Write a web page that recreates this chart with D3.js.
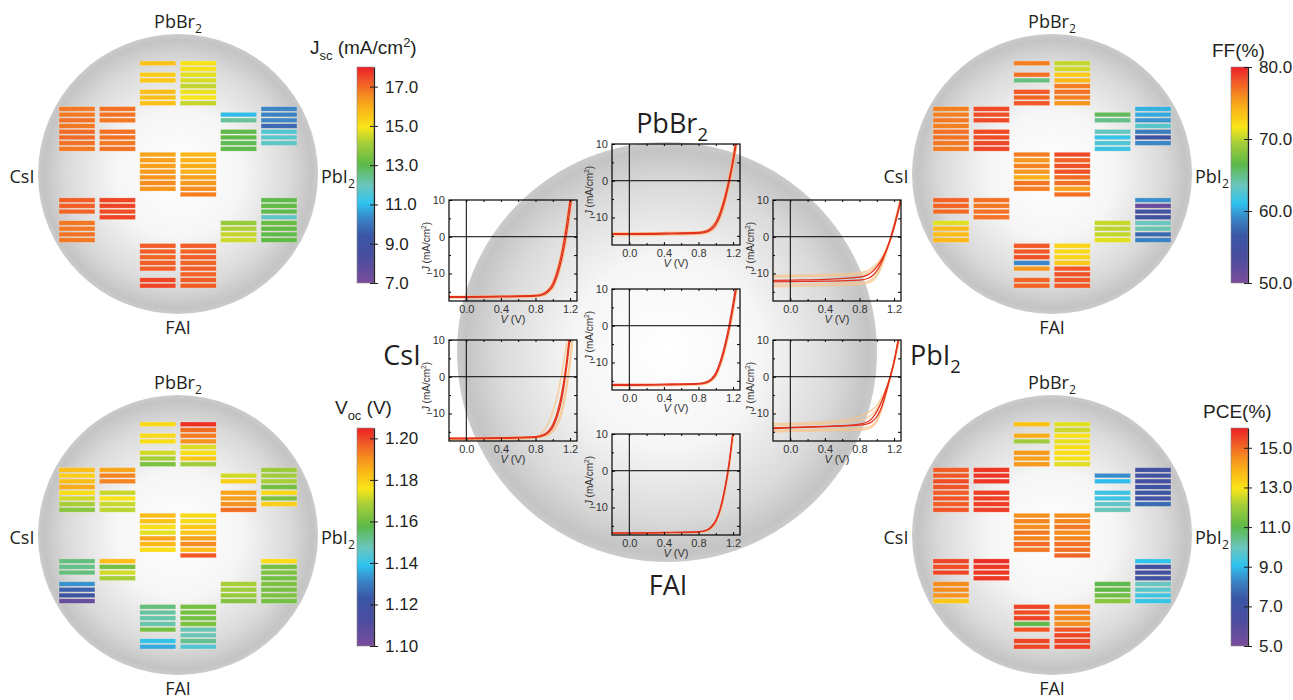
<!DOCTYPE html>
<html lang="en">
<head>
<meta charset="UTF-8">
<title>Composition maps</title>
<script src="https://d3js.org/d3.v7.min.js"></script>
<style>
  body { margin: 0; background: #fff; }
  svg { display: block; }
  .lab { font-family: "Open Sans", sans-serif; fill: #231f20; }
  .cb text { font-family: "Liberation Sans", Arial, sans-serif; font-size: 17px; fill: #231f20; }
  .jv text { font-family: "Liberation Sans", Arial, sans-serif; font-size: 11px; fill: #333; }
</style>
</head>
<body>
<svg id="chart" width="1293" height="700"></svg>
<script>
// block order inside every composition map
const blockNames = ["top", "upperLeft", "upperRight", "center", "lowerLeft", "lowerRight", "bottom"];
// each block: [left column, right column], 8 slots each, null = missing cell
const jscValues = [
  [[15.6, null, 15.4, 15.5, null, 15.7, 15.6, 15.6], [15.0, 15.0, 14.7, 14.6, 14.4, 14.8, 14.9, 14.4]],
  [[16.8, 16.8, 16.9, 16.8, 17.0, 17.0, 16.9, 16.8], [16.9, 16.9, 16.8, null, 16.9, 16.9, 16.8, 16.9]],
  [[null, 11.0, 12.3, null, 13.0, 13.1, 12.9, 13.0], [10.3, 10.2, 10.3, 9.8, 11.6, 11.7, 11.8, null]],
  [[16.1, 16.2, 16.2, 16.3, 16.4, 16.5, 16.4, null], [15.8, 15.9, 16.0, 15.9, 16.2, 16.3, 16.5, 16.7]],
  [[17.2, 17.2, 17.1, null, 16.8, 16.8, 16.9, 16.8], [17.5, 17.5, 17.4, 17.5, null, null, null, null]],
  [[null, null, null, null, 13.9, 14.2, 14.4, 14.5], [13.0, 13.1, 13.0, 11.8, 13.2, 13.1, 13.0, 13.1]],
  [[17.2, 17.2, 17.1, 17.2, 17.2, null, 17.5, 17.5], [17.2, 17.1, 17.2, 17.1, 17.2, 17.1, 17.2, 17.2]]
];
const vocValues = [
  [[1.178, null, 1.178, 1.177, null, 1.172, 1.168, 1.162], [1.203, 1.195, 1.193, 1.190, 1.173, 1.177, 1.181, 1.167]],
  [[1.183, 1.180, 1.183, 1.186, 1.177, 1.172, 1.168, 1.164], [1.187, 1.192, 1.192, null, 1.171, 1.176, 1.171, 1.170]],
  [[null, 1.172, 1.180, null, 1.187, 1.188, 1.190, 1.195], [1.166, 1.167, 1.168, 1.161, 1.178, 1.162, 1.180, null]],
  [[1.183, 1.182, 1.177, 1.174, 1.187, 1.184, 1.177, null], [1.178, 1.178, 1.181, 1.181, 1.187, 1.191, 1.183, 1.198]],
  [[1.153, 1.152, 1.153, null, 1.133, 1.125, 1.121, 1.105], [1.183, 1.161, 1.172, 1.168, null, null, null, null]],
  [[null, null, null, null, 1.168, 1.167, 1.166, 1.163], [1.177, 1.161, 1.162, 1.161, 1.162, 1.161, 1.162, 1.161]],
  [[1.153, 1.150, 1.149, 1.149, 1.161, null, 1.140, 1.136], [1.161, 1.161, 1.161, 1.162, 1.148, 1.148, 1.151, 1.144]]
];
const ffValues = [
  [[76.5, null, 77.0, 65.0, null, 78.0, 77.5, 78.0], [70.2, 70.5, 73.0, 74.0, 76.5, 77.0, 76.5, 75.5]],
  [[76.5, 76.5, 76.7, 76.4, 77.0, 77.0, 76.8, 76.6], [78.5, 78.3, 78.5, null, 78.5, 78.4, 78.5, 78.6]],
  [[null, 66.0, 64.8, null, 63.2, 61.5, 62.5, 61.7], [60.5, 60.2, 59.5, 62.8, 58.5, 56.0, 59.0, null]],
  [[76.5, 75.5, 76.3, 75.5, 74.5, 76.8, 76.5, null], [78.5, 77.5, 78.2, 78.3, 77.3, 77.0, 75.0, 77.0]],
  [[77.5, 77.5, 77.3, null, 71.0, 74.0, 73.8, 74.0], [77.0, 76.8, 77.0, 77.0, null, null, null, null]],
  [[null, null, null, null, 70.3, 70.0, 70.2, 71.0], [59.3, 51.5, 55.5, 55.0, 63.5, 63.8, 57.5, 58.8]],
  [[78.0, 78.0, 78.2, 59.0, 75.5, null, 77.5, 77.5], [72.5, 72.3, 72.5, 73.0, 78.0, 78.2, 78.0, 78.0]]
];
const pceValues = [
  [[13.6, null, 14.0, 12.0, null, 14.3, 14.2, 14.3], [12.7, 12.5, 13.0, 12.8, 13.1, 13.1, 13.0, 12.7]],
  [[15.2, 15.3, 15.4, 15.3, 15.2, 15.3, 15.2, 15.3], [15.7, 15.7, 15.7, null, 15.6, 15.6, 15.6, 15.6]],
  [[null, 8.4, 9.0, null, 9.3, 9.3, 9.8, 10.0], [6.8, 7.0, 6.8, 7.1, 7.3, 7.0, 7.8, null]],
  [[14.5, 14.6, 14.5, 14.8, 14.6, 15.0, 14.8, null], [14.5, 14.6, 14.8, 14.5, 14.6, 14.9, 14.9, 15.1]],
  [[15.5, 15.4, 15.5, null, 14.5, 14.5, 14.4, 13.5], [15.8, 15.7, 15.7, 15.7, null, null, null, null]],
  [[null, null, null, null, 11.0, 11.1, 11.3, 11.7], [9.1, 6.8, 6.9, 7.0, 9.9, 9.7, 9.3, 9.2]],
  [[15.5, 15.4, 15.5, 11.0, 15.3, null, 15.5, 15.5], [14.5, 14.7, 14.6, 14.5, 15.3, 15.5, 15.5, 15.6]]
];
const jscTicks = [7, 9, 11, 13, 15, 17];
const vocTicks = [1.10, 1.12, 1.14, 1.16, 1.18, 1.20];
const ffTicks = [50, 60, 70, 80];
const pceTicks = [5, 7, 9, 11, 13, 15];

// J-V curves, [V, J] points, panels in block order
const jvRed = [
  [[[-0.2,-16.5],[0,-16.5],[0.4,-16.4],[0.8,-16.2],[0.9,-15.7],[0.95,-14.9],[1.0,-13.5],[1.05,-10.7],[1.1,-6.4],[1.15,-0.4],[1.2,7.6],[1.23,13]],
   [[-0.2,-16.3],[0,-16.3],[0.4,-16.2],[0.8,-16.0],[0.9,-15.4],[0.95,-14.5],[1.0,-12.8],[1.05,-9.6],[1.1,-4.8],[1.15,1.8],[1.2,10],[1.22,13]]],
  [[[-0.2,-14.6],[0,-14.6],[0.4,-14.5],[0.8,-14.3],[0.9,-13.9],[0.95,-13.3],[1.0,-12],[1.05,-9.6],[1.1,-5.9],[1.15,-1.0],[1.2,4.9],[1.25,12]],
   [[-0.2,-14.4],[0,-14.4],[0.4,-14.3],[0.8,-14.1],[0.9,-13.6],[0.95,-12.8],[1.0,-11.3],[1.05,-8.7],[1.1,-4.9],[1.15,0],[1.2,6],[1.24,12]]],
  [[[-0.2,-11.9],[0,-11.8],[0.4,-11.6],[0.8,-11.0],[0.9,-10.3],[0.95,-9.5],[1.0,-8.2],[1.05,-6.5],[1.1,-4.2],[1.15,-1.3],[1.2,2.4],[1.25,7],[1.29,11]],
   [[-0.2,-12.3],[0,-12.2],[0.4,-12.1],[0.8,-11.8],[0.9,-11.3],[0.95,-10.6],[1.0,-9.3],[1.05,-7.2],[1.1,-4.4],[1.15,-1],[1.2,3],[1.25,7.5],[1.29,11.5]]],
  [[[-0.2,-16.2],[0,-16.2],[0.4,-16.1],[0.8,-15.9],[0.9,-15.5],[0.95,-14.8],[1.0,-13.4],[1.05,-10.6],[1.1,-6.6],[1.15,-1.5],[1.2,4.8],[1.25,12]],
   [[-0.2,-16.0],[0,-16.0],[0.4,-15.9],[0.8,-15.7],[0.9,-15.2],[0.95,-14.4],[1.0,-12.8],[1.05,-9.8],[1.1,-5.6],[1.15,-0.3],[1.2,6.2],[1.24,12]]],
  [[[-0.2,-16.9],[0,-16.9],[0.4,-16.8],[0.8,-16.5],[0.9,-16],[0.95,-15.2],[1.0,-13.8],[1.05,-11],[1.1,-6.5],[1.15,0.8],[1.2,10.5]],
   [[-0.2,-16.7],[0,-16.7],[0.4,-16.6],[0.8,-16.3],[0.9,-15.7],[0.95,-14.8],[1.0,-13.1],[1.05,-10],[1.1,-5.1],[1.15,2.4],[1.19,10.5]]],
  [[[-0.2,-14.1],[0,-13.9],[0.4,-13.6],[0.8,-12.9],[0.9,-12.2],[0.95,-11.2],[1.0,-9.5],[1.05,-7.1],[1.1,-3.9],[1.15,-0.4],[1.2,4],[1.25,10],[1.28,13]],
   [[-0.2,-13.9],[0,-13.8],[0.4,-13.5],[0.8,-13.2],[0.9,-12.8],[0.95,-12.1],[1.0,-10.9],[1.05,-8.6],[1.1,-4.9],[1.15,-0.6],[1.2,4.2],[1.25,10],[1.28,13]]],
  [[[-0.2,-17],[0,-17],[0.4,-16.9],[0.8,-16.7],[0.9,-16.2],[0.95,-15.4],[1.0,-13.8],[1.05,-10.8],[1.1,-5.8],[1.15,1],[1.2,10.5]],
   [[-0.2,-16.9],[0,-16.9],[0.4,-16.8],[0.8,-16.6],[0.9,-16.1],[0.95,-15.2],[1.0,-13.5],[1.05,-10.3],[1.1,-5.2],[1.15,1.6],[1.2,11]]]
];
const jvPale = [
  [[[-0.2,-16.7],[0,-16.7],[0.4,-16.6],[0.8,-16.4],[0.9,-16],[0.95,-15.3],[1.0,-14.1],[1.05,-11.6],[1.1,-7.6],[1.15,-1.8],[1.2,5.8],[1.24,13]],
   [[-0.2,-16.2],[0,-16.2],[0.4,-16.1],[0.8,-15.8],[0.9,-15.1],[0.95,-14.1],[1.0,-12.2],[1.05,-8.8],[1.1,-3.8],[1.15,3],[1.2,11.5]]],
  [[[-0.2,-14.9],[0,-14.9],[0.4,-14.8],[0.8,-14.6],[0.9,-14.3],[0.95,-13.8],[1.0,-12.7],[1.05,-10.5],[1.1,-7],[1.15,-2.3],[1.2,3.5],[1.26,12]],
   [[-0.2,-14.2],[0,-14.2],[0.4,-14.1],[0.8,-13.9],[0.9,-13.4],[0.95,-12.5],[1.0,-10.9],[1.05,-8],[1.1,-4],[1.15,1.2],[1.2,7.5],[1.23,12]]],
  [[[-0.2,-10.6],[0,-10.5],[0.4,-10.3],[0.8,-9.8],[0.9,-9.2],[1.0,-7.4],[1.05,-5.9],[1.1,-3.8],[1.15,-1],[1.2,2.8],[1.25,7.5],[1.29,11]],
   [[-0.2,-11],[0,-10.9],[0.4,-10.7],[0.8,-10.3],[0.9,-9.8],[1.0,-8],[1.05,-6.4],[1.1,-4.1],[1.15,-1.2],[1.2,2.6],[1.28,10]],
   [[-0.2,-13.1],[0,-13],[0.4,-12.8],[0.8,-12.5],[0.9,-12.1],[1.0,-10.2],[1.05,-8],[1.1,-5],[1.15,-1.3],[1.2,3],[1.28,11]],
   [[-0.2,-13.6],[0,-13.5],[0.4,-13.3],[0.8,-13],[0.9,-12.6],[1.0,-10.8],[1.05,-8.4],[1.1,-5.1],[1.15,-1.2],[1.2,3.3],[1.28,11]]],
  [[[-0.2,-16.4],[0,-16.4],[0.4,-16.3],[0.8,-16.1],[0.9,-15.7],[0.95,-15.1],[1.0,-13.9],[1.05,-11.3],[1.1,-7.5],[1.15,-2.6],[1.2,3.5],[1.26,12]]],
  [[[-0.2,-17.2],[0,-17.2],[0.4,-17.1],[0.7,-16.9],[0.8,-16.5],[0.85,-15.8],[0.9,-14.6],[0.95,-12.6],[1.0,-9.6],[1.05,-5.4],[1.1,0.3],[1.15,7.6],[1.18,12]],
   [[-0.2,-17],[0,-17],[0.4,-16.9],[0.8,-16.6],[0.9,-15.8],[0.95,-14.7],[1.0,-12.8],[1.05,-9.6],[1.1,-4.6],[1.15,2.6],[1.19,10]],
   [[-0.2,-16.8],[0,-16.8],[0.4,-16.7],[0.8,-16.6],[0.9,-16.3],[0.95,-15.8],[1.0,-14.8],[1.05,-12.8],[1.1,-9.3],[1.15,-3.5],[1.2,5],[1.23,12]],
   [[-0.2,-16.6],[0,-16.6],[0.4,-16.5],[0.8,-16.4],[0.9,-16.2],[0.95,-15.8],[1.0,-15],[1.05,-13.3],[1.1,-10.2],[1.15,-4.8],[1.2,3.5],[1.24,12]]],
  [[[-0.2,-12.8],[0,-12.7],[0.4,-12.3],[0.6,-11.8],[0.8,-10.8],[0.9,-9.8],[1.0,-7.8],[1.05,-6],[1.1,-3.7],[1.15,-0.7],[1.2,3.5],[1.27,11]],
   [[-0.2,-13.3],[0,-13.1],[0.4,-12.8],[0.6,-12.4],[0.8,-11.8],[0.9,-11],[1.0,-8.9],[1.05,-6.8],[1.1,-4],[1.15,-0.5],[1.2,4],[1.27,12]],
   [[-0.2,-14.6],[0,-14.5],[0.4,-14.3],[0.8,-14],[0.9,-13.7],[0.95,-13.2],[1.0,-11.9],[1.05,-9.2],[1.1,-5.2],[1.15,-0.6],[1.2,4.3],[1.26,12]],
   [[-0.2,-15],[0,-14.9],[0.4,-14.7],[0.8,-14.5],[0.9,-14.2],[0.95,-13.6],[1.0,-12.2],[1.05,-9.4],[1.1,-5.4],[1.15,-0.8],[1.2,4],[1.26,12]]],
  [[[-0.2,-17.1],[0,-17.1],[0.4,-17],[0.8,-16.8],[0.9,-16.4],[0.95,-15.7],[1.0,-14.3],[1.05,-11.5],[1.1,-6.8],[1.15,-0.2],[1.2,8.8],[1.22,12]]]
];
const jvXTicks = [0, 0.4, 0.8, 1.2];
const jvYTicks = [-10, 0, 10];

// rainbow colour scale shared by all bars (fraction of range -> colour)
const rainbowStops = [0, 0.12, 0.22, 0.30, 0.37, 0.45, 0.55, 0.65, 0.72, 0.80, 0.86, 0.93, 1];
const rainbowColors = ["#7a4d9c", "#4a4da0", "#3a56a6", "#3a86c6", "#2ec3ef", "#6ac6bf", "#5db947",
                       "#a8cf38", "#f7e619", "#fbb817", "#f5901f", "#f15a27", "#ec1f26"];
const rainbow = d3.scaleLinear().domain(rainbowStops).range(rainbowColors).clamp(true);

// layout of blocks on a 3 x 5 grid: [column, row]
const blockCells = [[1, 0], [0, 1], [2, 1], [1, 2], [0, 3], [2, 3], [1, 4]];

const svg = d3.select("#chart");
const defs = svg.append("defs");

const sphere = defs.append("radialGradient").attr("id", "sphere")
  .attr("cx", "50%").attr("cy", "50%").attr("r", "50%");
[[0, "#ffffff"], [0.45, "#f6f6f6"], [0.8, "#dadada"], [0.96, "#c4c4c4"], [1, "#cbcbcb"]]
  .forEach(([o, c]) => sphere.append("stop").attr("offset", o).attr("stop-color", c));

const barGrad = defs.append("linearGradient").attr("id", "rainbowBar")
  .attr("x1", 0).attr("y1", 1).attr("x2", 0).attr("y2", 0);
rainbowStops.forEach((o, i) => barGrad.append("stop").attr("offset", o).attr("stop-color", rainbowColors[i]));

// text with sub/superscripts: parts = [[text, "sub"|"sup"|undefined, italic]]
function richText(g, x, y, parts, size, anchor, cls) {
  const t = g.append("text").attr("class", cls || "lab").attr("x", x).attr("y", y)
    .attr("text-anchor", anchor || "middle").style("font-size", size + "px");
  let shift = 0;
  parts.forEach(([str, kind, italic]) => {
    const target = kind === "sub" ? size * 0.3 : kind === "sup" ? -size * 0.38 : 0;
    const ts = t.append("tspan").attr("dy", target - shift).text(str);
    if (kind) ts.style("font-size", (size * 0.68) + "px");
    if (italic) ts.style("font-style", "italic");
    shift = target;
  });
  return t;
}

const metrics = [
  { values: jscValues, min: 7, max: 18, ticks: jscTicks, fmt: ".1f", cx: 178, cy: 174, barX: 357, barY: 67, barH: 216,
    title: [["J"], ["sc", "sub"], [" (mA/cm"], ["2", "sup"], [")"]], titleX: 310, titleY: 54 },
  { values: vocValues, min: 1.10, max: 1.205, ticks: vocTicks, fmt: ".2f", cx: 178, cy: 535, barX: 357, barY: 428, barH: 218,
    title: [["V"], ["oc", "sub"], [" (V)"]], titleX: 335, titleY: 414 },
  { values: ffValues, min: 50, max: 80, ticks: ffTicks, fmt: ".1f", cx: 1052, cy: 174, barX: 1231, barY: 67, barH: 216,
    title: [["FF(%)"]], titleX: 1212, titleY: 57 },
  { values: pceValues, min: 5, max: 16, ticks: pceTicks, fmt: ".1f", cx: 1052, cy: 535, barX: 1231, barY: 428, barH: 218,
    title: [["PCE(%)"]], titleX: 1203, titleY: 418 }
];

const colX = d3.scaleBand().domain(d3.range(6)).range([-119, 119]).paddingInner(0.11);
const slotY = d3.scaleBand().domain(d3.range(40)).range([-113, 114]).paddingInner(0.2);

metrics.forEach(m => {
  const g = svg.append("g").attr("transform", `translate(${m.cx},${m.cy})`);
  g.append("circle").attr("r", 140).attr("fill", "url(#sphere)");

  const cells = [];
  m.values.forEach((block, b) => block.forEach((col, c) => col.forEach((v, s) => {
    if (v !== null) cells.push({ sub: blockCells[b][0] * 2 + c, slot: blockCells[b][1] * 8 + s, v });
  })));
  const color = v => rainbow((v - m.min) / (m.max - m.min));
  g.append("g").selectAll("rect").data(cells).join("rect")
    .attr("x", d => colX(d.sub)).attr("y", d => slotY(d.slot))
    .attr("width", colX.bandwidth()).attr("height", slotY.bandwidth())
    .attr("fill", d => color(d.v))
    .attr("stroke", "rgba(255,240,220,0.55)").attr("stroke-width", 0.5);

  richText(g, 0, -146, [["PbBr"], ["2", "sub"]], 18, "middle");
  richText(g, -156, 9, [["CsI"]], 18, "middle");
  richText(g, 143, 9, [["PbI"], ["2", "sub"]], 18, "start");
  richText(g, 0, 160, [["FAI"]], 18, "middle");

  // colour bar
  const cb = svg.append("g").attr("class", "cb");
  cb.append("rect").attr("x", m.barX).attr("y", m.barY).attr("width", 17).attr("height", m.barH)
    .attr("fill", "url(#rainbowBar)").attr("stroke", "#8a8a8a").attr("stroke-width", 0.6);
  const sc = d3.scaleLinear().domain([m.min, m.max]).range([m.barY + m.barH, m.barY]);
  const ax = cb.append("g").attr("transform", `translate(${m.barX + 17},0)`)
    .call(d3.axisRight(sc).tickValues(m.ticks).tickFormat(d3.format(m.fmt)).tickSizeInner(4).tickSizeOuter(0).tickPadding(7));
  ax.select(".domain").attr("stroke", "#231f20").attr("stroke-width", 1.2);
  ax.selectAll(".tick line").attr("x1", -4).attr("stroke", "#231f20");
  ax.selectAll("text").attr("fill", "#231f20").style("font-size", "17px");
  richText(cb, m.titleX, m.titleY, m.title, 19, "start", "title");
  cb.select(".title").style("font-family", "'Liberation Sans', Arial, sans-serif").attr("fill", "#231f20");
});

// central sphere with J-V curves
const center = svg.append("g");
center.append("circle").attr("cx", 667).attr("cy", 352).attr("r", 210).attr("fill", "url(#sphere)");
richText(center, 672, 133, [["PbBr"], ["2", "sub"]], 27, "middle");
richText(center, 402, 365, [["CsI"]], 27, "middle");
richText(center, 910, 365, [["PbI"], ["2", "sub"]], 27, "start");
richText(center, 668, 595, [["FAI"]], 27, "middle");

const jvBoxes = [[449, 200], [612, 144], [773, 200], [612, 289], [449, 340], [773, 340], [612, 434]];
const pw = 128, ph = 101;
const jx = d3.scaleLinear().domain([-0.2, 1.28]).range([0, pw]);
const jy = d3.scaleLinear().domain([-17.5, 10]).range([ph, 0]);
const jline = d3.line().x(d => jx(d[0])).y(d => jy(d[1])).curve(d3.curveMonotoneX);

defs.append("clipPath").attr("id", "jvclip").append("rect").attr("width", pw).attr("height", ph);

jvBoxes.forEach(([bx, by], i) => {
  const g = center.append("g").attr("class", "jv").attr("transform", `translate(${bx},${by})`);
  const plot = g.append("g").attr("clip-path", "url(#jvclip)");
  plot.selectAll("path.pale").data(jvPale[i]).join("path").attr("class", "pale")
    .attr("d", jline).attr("fill", "none").attr("stroke", "#f7c48a").attr("stroke-width", 1.6).attr("stroke-opacity", 0.75);
  plot.selectAll("path.red").data(jvRed[i]).join("path").attr("class", "red")
    .attr("d", jline).attr("fill", "none").attr("stroke", "#e2311d").attr("stroke-width", 1.3);

  g.append("line").attr("x1", jx(0)).attr("x2", jx(0)).attr("y1", 0).attr("y2", ph).attr("stroke", "#000");
  g.append("line").attr("x1", 0).attr("x2", pw).attr("y1", jy(0)).attr("y2", jy(0)).attr("stroke", "#000");

  const fmtAxis = a => {
    a.select(".domain").remove();
    a.selectAll(".tick line").attr("stroke", "#000");
  };
  g.append("g").attr("transform", `translate(0,${ph})`)
    .call(d3.axisBottom(jx).tickValues(jvXTicks).tickFormat(d3.format(".1f")).tickSizeInner(-3).tickPadding(4)).call(fmtAxis);
  g.append("g").attr("transform", `translate(0,${ph})`)
    .call(d3.axisBottom(jx).tickValues([0.2, 0.6, 1.0]).tickFormat("").tickSizeInner(-2)).call(fmtAxis);
  g.append("g").call(d3.axisTop(jx).tickValues([0, 0.2, 0.4, 0.6, 0.8, 1.0, 1.2]).tickFormat("").tickSizeInner(-2)).call(fmtAxis);
  g.append("g")
    .call(d3.axisLeft(jy).tickValues(jvYTicks).tickFormat(d3.format("d")).tickSizeInner(-3).tickPadding(4)).call(fmtAxis);
  g.append("g").call(d3.axisLeft(jy).tickValues([-15, -5, 5]).tickFormat("").tickSizeInner(-2)).call(fmtAxis);
  g.append("g").attr("transform", `translate(${pw},0)`)
    .call(d3.axisRight(jy).tickValues([-15, -10, -5, 0, 5]).tickFormat("").tickSizeInner(-3)).call(fmtAxis);
  g.selectAll(".tick text").attr("fill", "#333").style("font-size", "11px");

  g.append("rect").attr("width", pw).attr("height", ph).attr("fill", "none").attr("stroke", "#000").attr("stroke-width", 1.2);

  richText(g, pw / 2, ph + 22, [["V", null, true], [" (V)"]], 11, "middle", "axlab");
  richText(g, 0, 0, [["J", null, true], [" (mA/cm"], ["2", "sup"], [")"]], 10, "middle", "axlab")
    .attr("transform", `translate(-19,${ph / 2 - 4}) rotate(-90)`);
  g.selectAll(".axlab").style("font-family", "'Liberation Sans', Arial, sans-serif").attr("fill", "#333");
});
</script>
</body>
</html>
